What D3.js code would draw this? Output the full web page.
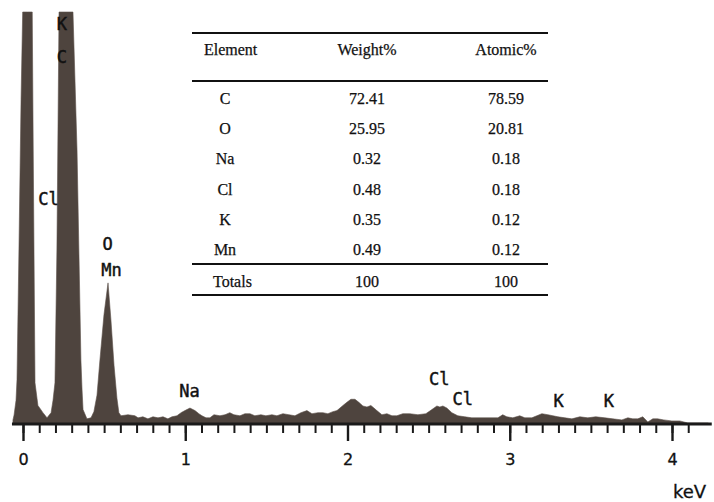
<!DOCTYPE html>
<html>
<head>
<meta charset="utf-8">
<script src="https://cdn.jsdelivr.net/npm/d3@7"></script>
<style>
  html, body { margin: 0; padding: 0; background: #fff; }
  svg { display: block; }
</style>
</head>
<body>
<svg id="chart" width="714" height="502"></svg>
<script>
// EDS spectrum: energy (keV) and intensity (arbitrary counts)
const energyKeV = [-0.062,-0.062,-0.055,-0.043,-0.037,-0.025,-0.012,-0.002,0.028,0.057,0.063,0.074,0.092,0.123,0.148,0.173,0.185,0.197,0.209,0.222,0.265,0.308,0.333,0.357,0.364,0.370,0.394,0.419,0.437,0.456,0.474,0.499,0.524,0.542,0.561,0.579,0.591,0.604,0.647,0.690,0.709,0.739,0.770,0.801,0.832,0.863,0.893,0.918,0.949,0.974,0.998,1.029,1.060,1.084,1.103,1.128,1.152,1.177,1.214,1.245,1.275,1.300,1.337,1.368,1.399,1.429,1.466,1.497,1.534,1.565,1.602,1.639,1.676,1.713,1.750,1.781,1.818,1.848,1.879,1.910,1.935,1.972,1.996,2.021,2.046,2.070,2.095,2.120,2.144,2.163,2.181,2.212,2.243,2.274,2.304,2.341,2.384,2.434,2.483,2.520,2.551,2.569,2.588,2.612,2.643,2.680,2.723,2.766,2.847,2.927,2.957,2.982,3.019,3.062,3.093,3.136,3.167,3.198,3.235,3.266,3.297,3.340,3.383,3.432,3.481,3.530,3.586,3.635,3.691,3.728,3.758,3.789,3.820,3.851,3.882,3.912,3.949,3.999,4.048,4.097,4.159,4.221,4.233];
const counts = [0,3.9,8.7,23,43,169,315,400,900,400,266,40,18,11,6,11,23,40,169,400,1200,400,266,62,33,14,5,6,12,28,62,106,137,101,57,25,11,8,9,8,6,7,5,7,6,7,5,7,8,11,13,15.5,13,10,8,6,6,9,8,9,11,9,8,10,10,8,9,8,9,8,10,9,8,11,13,10,11,11,10,12,13,18,21,24,24,21,17.5,16.5,18,15.5,13,9,10,8,8,10,10,9,10,14,17.5,16.5,17.5,15.5,11,8,7,6,6,6,9,7,6,8,6,6,8,10,9,8,7,6,5,7,6,7,6,5,4,6,5,5,7,2,5,5,4,3,3,1,1,1,0];

// Peak annotations (label, energy in keV, intensity level of the text baseline)
const peakLabels = ['K','C','Cl','O','Mn','Na','Cl','Cl','K','K'];
const peakLabelKeV = [0.240,0.240,0.157,0.521,0.545,1.026,2.566,2.711,3.302,3.611];
const peakLabelLevel = [382.5,350.5,212.6,168.9,143.7,26.2,37.9,18.4,16.5,16.5];

// Axis ticks
const majorTicks = [0,1,2,3,4];
const minorTicks = d3.range(0, 42).map(i => i / 10);
const axisExtentKeV = [-0.068, 4.245];

// Quantification table
const tableHeader = ['Element','Weight%','Atomic%'];
const elements = ['C','O','Na','Cl','K','Mn'];
const weightPct = [72.41,25.95,0.32,0.48,0.35,0.49];
const atomicPct = [78.59,20.81,0.18,0.18,0.12,0.12];
const totals = ['Totals', 100, 100];

const svg = d3.select('#chart');
const x = d3.scaleLinear().domain([0, 4]).range([23, 672]);
const y = d3.scaleLinear().domain([0, 400]).range([424, 12]).clamp(true);

const spectrum = energyKeV.map((e, i) => ({e, c: counts[i]}));

// Filled spectrum
svg.append('path')
  .datum(spectrum)
  .attr('fill', '#4e443e')
  .attr('stroke', '#5c514a')
  .attr('stroke-width', 0.6)
  .attr('d', d3.area().x(d => x(d.e)).y0(y(0)).y1(d => y(d.c)));

// Energy axis: minor and major ticks
const axisG = svg.append('g').attr('transform', `translate(0,${y(0)})`);
const minorAxis = d3.axisBottom(x).tickValues(minorTicks).tickSize(9).tickFormat('');
const majorAxis = d3.axisBottom(x).tickValues(majorTicks).tickSize(17).tickPadding(13)
  .tickFormat(d3.format('d'));
axisG.append('g').call(minorAxis)
  .call(g => g.select('.domain').remove())
  .call(g => g.selectAll('line').attr('stroke', '#1a1a1a').attr('stroke-width', 2));
axisG.append('g').call(majorAxis)
  .call(g => g.select('.domain').remove())
  .call(g => g.selectAll('line').attr('stroke', '#1a1a1a').attr('stroke-width', 2.4))
  .call(g => g.selectAll('text')
    .attr('fill', '#111')
    .attr('stroke', '#111')
    .attr('stroke-width', 0.3)
    .style('font-family', '"DejaVu Sans", sans-serif')
    .style('font-size', '16px'));
axisG.append('line')
  .attr('x1', x(axisExtentKeV[0])).attr('x2', x(axisExtentKeV[1]))
  .attr('y1', 0).attr('y2', 0)
  .attr('stroke', '#1a1a1a').attr('stroke-width', 3);

svg.append('text')
  .attr('x', 673).attr('y', 498)
  .attr('fill', '#111')
  .attr('stroke', '#111')
  .attr('stroke-width', 0.3)
  .style('font-family', '"DejaVu Sans", sans-serif')
  .style('font-size', '18px')
  .text('keV');

// Peak labels
svg.append('g').selectAll('text')
  .data(peakLabels)
  .join('text')
  .attr('x', (d, i) => x(peakLabelKeV[i]))
  .attr('y', (d, i) => y(peakLabelLevel[i]))
  .attr('text-anchor', 'middle')
  .attr('fill', '#111')
  .attr('stroke', '#111')
  .attr('stroke-width', 0.45)
  .style('font-family', '"DejaVu Sans Mono", monospace')
  .style('font-size', '17px')
  .text(d => d);

// Quantification table
const tbl = svg.append('g')
  .style('font-family', '"Liberation Serif", "Times New Roman", serif')
  .style('font-size', '16px')
  .attr('fill', '#111')
  .attr('stroke', '#111')
  .attr('stroke-width', 0.25);
const ruleX = [192, 548];
[33, 81, 264, 295].forEach(ry => {
  tbl.append('line')
    .attr('x1', ruleX[0]).attr('x2', ruleX[1])
    .attr('y1', ry).attr('y2', ry)
    .attr('stroke', '#111').attr('stroke-width', 2);
});
const colX = [225, 367, 506];
tbl.append('text').attr('x', 204).attr('y', 55).text(tableHeader[0]);
tbl.append('text').attr('x', colX[1]).attr('y', 55).attr('text-anchor', 'middle').text(tableHeader[1]);
tbl.append('text').attr('x', colX[2]).attr('y', 55).attr('text-anchor', 'middle').text(tableHeader[2]);
const rowY = d3.scaleLinear().domain([0, 5]).range([104, 255]);
elements.forEach((el, i) => {
  tbl.append('text').attr('x', colX[0]).attr('y', rowY(i)).attr('text-anchor', 'middle').text(el);
  tbl.append('text').attr('x', colX[1]).attr('y', rowY(i)).attr('text-anchor', 'middle').text(weightPct[i].toFixed(2));
  tbl.append('text').attr('x', colX[2]).attr('y', rowY(i)).attr('text-anchor', 'middle').text(atomicPct[i].toFixed(2));
});
tbl.append('text').attr('x', 213).attr('y', 287).text(totals[0]);
tbl.append('text').attr('x', colX[1]).attr('y', 287).attr('text-anchor', 'middle').text(totals[1]);
tbl.append('text').attr('x', colX[2]).attr('y', 287).attr('text-anchor', 'middle').text(totals[2]);
</script>
</body>
</html>
